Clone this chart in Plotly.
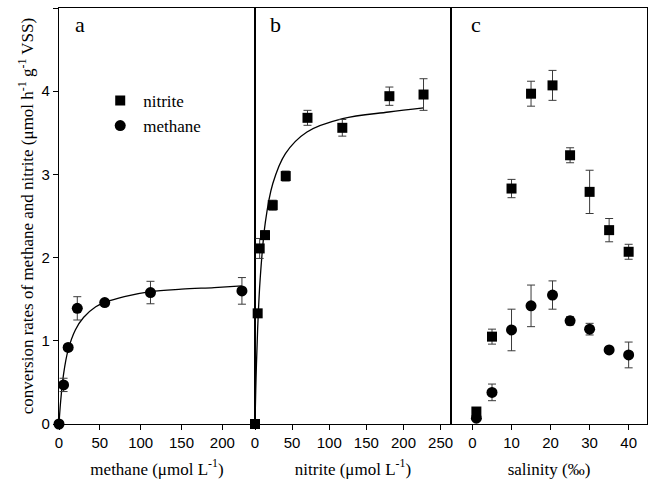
import plotly.graph_objects as go
from plotly.subplots import make_subplots

# ---- panel a: methane concentration vs methane conversion rate ----
a_x = [0, 5.6, 11.2, 22.4, 56, 112, 224]
a_y = [0, 0.47, 0.92, 1.39, 1.46, 1.58, 1.60]
a_err = [0, 0.08, 0.03, 0.14, 0.03, 0.135, 0.16]
a_fit_x = [0, 2, 5.6, 11.2, 20, 30, 45, 56, 80, 112, 150, 190, 224]
a_fit_y = [0, 0.27, 0.60, 0.89, 1.13, 1.28, 1.41, 1.46, 1.53, 1.59, 1.62, 1.64, 1.66]

# ---- panel b: nitrite concentration vs nitrite conversion rate ----
b_x = [0, 3.6, 6.3, 13.5, 23.9, 41.4, 70.7, 117.6, 181, 227]
b_y = [0, 1.33, 2.11, 2.27, 2.63, 2.98, 3.68, 3.56, 3.94, 3.96]
b_err = [0, 0.03, 0.12, 0.05, 0.06, 0.06, 0.09, 0.10, 0.11, 0.19]
b_fit_x = [0, 1, 2, 3.6, 7, 14, 24, 41, 70, 118, 180, 227]
b_fit_y = [0, 0.40, 0.73, 1.15, 1.75, 2.43, 2.89, 3.25, 3.51, 3.67, 3.75, 3.80]

# ---- panel c: salinity ----
c_x = [1, 5, 10, 15, 20.5, 25, 30, 35, 40]
c_nitrite = [0.15, 1.05, 2.83, 3.97, 4.07, 3.23, 2.79, 2.33, 2.07]
c_nitrite_err = [0.03, 0.09, 0.11, 0.15, 0.18, 0.09, 0.26, 0.14, 0.09]
c_methane = [0.07, 0.38, 1.13, 1.42, 1.55, 1.24, 1.14, 0.89, 0.83]
c_methane_err = [0.02, 0.10, 0.25, 0.25, 0.17, 0.05, 0.07, 0.02, 0.155]

y_ticks = [0, 1, 2, 3, 4, 5]
panel_labels = ["a", "b", "c"]
x_titles = ["methane (μmol L<sup>-1</sup>)", "nitrite (μmol L<sup>-1</sup>)", "salinity (‰)"]
y_title = "conversion rates of methane and nitrite (μmol h<sup>-1</sup> g<sup>-1</sup> VSS)"

SERIF = "Liberation Serif"
SANS = "Liberation Sans"
ERRC = "#3a3a3a"

fig = make_subplots(rows=1, cols=3, shared_yaxes=True, horizontal_spacing=0)

def err(arr):
    return dict(type="data", array=arr, visible=True, color=ERRC, thickness=1, width=4)

# panel a
fig.add_trace(go.Scatter(x=a_fit_x, y=a_fit_y, mode="lines", line=dict(color="black", width=1.3, shape="spline"),
                         showlegend=False, hoverinfo="skip"), row=1, col=1)
fig.add_trace(go.Scatter(x=a_x, y=a_y, mode="markers", error_y=err(a_err), cliponaxis=False,
                         marker=dict(symbol="circle", size=11, color="black"), showlegend=False), row=1, col=1)
# panel b
fig.add_trace(go.Scatter(x=b_fit_x, y=b_fit_y, mode="lines", line=dict(color="black", width=1.3, shape="spline"),
                         showlegend=False, hoverinfo="skip"), row=1, col=2)
fig.add_trace(go.Scatter(x=b_x, y=b_y, mode="markers", error_y=err(b_err), cliponaxis=False,
                         marker=dict(symbol="square", size=10, color="black"), showlegend=False), row=1, col=2)
# panel c
fig.add_trace(go.Scatter(x=c_x, y=c_nitrite, mode="markers", error_y=err(c_nitrite_err), name="nitrite",
                         cliponaxis=False, marker=dict(symbol="square", size=10, color="black")), row=1, col=3)
fig.add_trace(go.Scatter(x=c_x, y=c_methane, mode="markers", error_y=err(c_methane_err), name="methane",
                         cliponaxis=False, marker=dict(symbol="circle", size=11, color="black")), row=1, col=3)

x_ranges = [[0, 240], [0, 264], [-5.5, 44.7]]
x_tickvals = [[0, 50, 100, 150, 200], [0, 50, 100, 150, 200, 250], [0, 10, 20, 30, 40]]
for i in range(3):
    fig.update_xaxes(range=x_ranges[i], tickvals=x_tickvals[i], ticks="outside", ticklen=5, tickwidth=1,
                     tickcolor="black", showline=True, linecolor="black", linewidth=1.3, mirror=True,
                     showgrid=False, zeroline=False, automargin=False,
                     tickfont=dict(family=SANS, size=15, color="black"),
                     title=dict(text=x_titles[i], font=dict(family=SERIF, size=17, color="black"), standoff=12),
                     row=1, col=i + 1)
    fig.update_yaxes(range=[0, 5], tickvals=y_ticks, showline=True, linecolor="black", linewidth=1.3, mirror=True,
                     showgrid=False, zeroline=False, automargin=False, row=1, col=i + 1)
fig.update_yaxes(ticks="outside", ticklen=5, tickwidth=1, tickcolor="black",
                 tickfont=dict(family=SANS, size=15, color="black"),
                 title=dict(text=y_title, font=dict(family=SERIF, size=17, color="black"), standoff=3),
                 row=1, col=1)
fig.update_yaxes(showticklabels=False, ticks="", row=1, col=2)
fig.update_yaxes(showticklabels=False, ticks="", row=1, col=3)

label_x = [0.024, 0.356, 0.697]
for i, lab in enumerate(panel_labels):
    fig.add_annotation(text=lab, x=label_x[i], y=0.995, xref="paper", yref="paper", xanchor="left", yanchor="top",
                       showarrow=False, font=dict(family=SERIF, size=22, color="black"))

fig.update_layout(
    width=650, height=489, margin=dict(l=59, r=3, t=8, b=65, autoexpand=False),
    plot_bgcolor="white", paper_bgcolor="white",
    legend=dict(x=0.065, y=0.82, xanchor="left", yanchor="top", bgcolor="rgba(0,0,0,0)",
                font=dict(family=SERIF, size=17, color="black"), tracegroupgap=0, itemwidth=36),
)

fig.write_html("out.html", config={"displayModeBar": False},
               post_script="document.body.style.margin='0px';")
